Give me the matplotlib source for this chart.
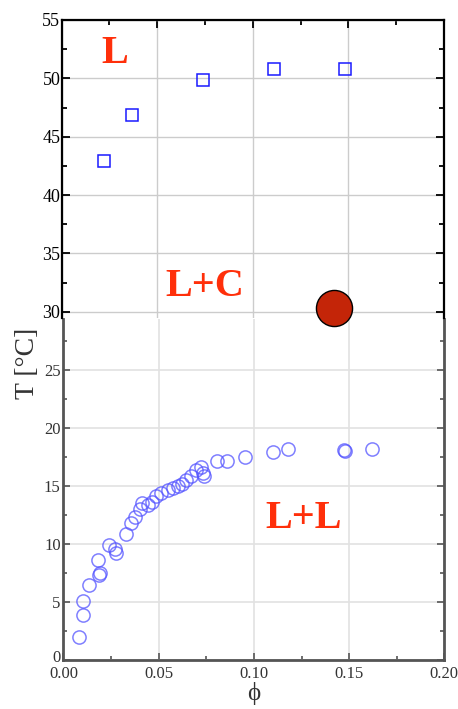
import numpy as np
import matplotlib.pyplot as plt
import matplotlib.transforms as mtransforms
from matplotlib.ticker import MultipleLocator

# upper panel: L / L+C boundary (open squares)
phi_sq = [0.022, 0.037, 0.074, 0.111, 0.148]
T_sq = [42.9, 46.9, 49.9, 50.8, 50.8]

# critical point (filled red circle)
phi_cp = [0.1427]
T_cp = [30.3]

# lower panel: L+L coexistence (open circles)
phi_circ = [0.0084, 0.0101, 0.0105, 0.0136, 0.0185, 0.0194, 0.018, 0.024, 0.0268,
            0.0277, 0.0329, 0.0352, 0.0373, 0.040, 0.0413, 0.0443, 0.0466, 0.0487,
            0.0513, 0.0548, 0.0574, 0.060, 0.0623, 0.0644, 0.067, 0.0697, 0.0723,
            0.0731, 0.074, 0.0805, 0.0857, 0.0955, 0.110, 0.1177, 0.1475, 0.1478,
            0.162]
T_circ = [2.0, 3.9, 5.1, 6.5, 7.3, 7.5, 8.6, 9.9, 9.6,
          9.25, 10.9, 11.8, 12.3, 13.0, 13.5, 13.4, 13.65, 14.1,
          14.4, 14.65, 14.8, 15.0, 15.2, 15.5, 15.9, 16.4, 16.6,
          16.1, 15.9, 17.15, 17.15, 17.5, 17.95, 18.15, 18.1, 18.05,
          18.15]

xticks = [0.00, 0.05, 0.10, 0.15, 0.20]
xticklabels = ["0.00", "0.05", "0.10", "0.15", "0.20"]

plt.rcParams['font.family'] = ['Liberation Serif', 'DejaVu Serif']
W, H = 458, 709
fig = plt.figure(figsize=(W / 100, H / 100), dpi=100)

def frac(l, t, r, b):
    return [l / W, 1 - b / H, (r - l) / W, (b - t) / H]

red = '#ff2f0a'

# ---- lower panel ----
ax2 = fig.add_axes(frac(63.5, 319.3, 444.3, 660))
ax2.set_xlim(0, 0.20)
ax2.set_ylim(0, 29.37)
ax2.plot(phi_circ, T_circ, 'o', ms=9.5, mfc='none', mec='#5555ff', mew=1.1, alpha=0.75)
ax2.xaxis.set_major_locator(MultipleLocator(0.05))
ax2.xaxis.set_minor_locator(MultipleLocator(0.025))
ax2.yaxis.set_major_locator(MultipleLocator(5))
ax2.yaxis.set_minor_locator(MultipleLocator(2.5))
ax2.set_xticks(xticks)
ax2.set_xticklabels(xticklabels)
ax2.tick_params(which='both', direction='in', right=True, top=False, colors='#555555',
                labelcolor='#333333', labelsize=12, pad=2)
ax2.tick_params(axis='x', pad=4)
ax2.tick_params(which='major', length=5, width=1.2)
ax2.tick_params(which='minor', length=3, width=1.2)
ax2.grid(True, color='#e2e2e2', lw=1.2)
for s in ['left', 'right', 'bottom']:
    ax2.spines[s].set_color('#555555')
    ax2.spines[s].set_linewidth(2)
ax2.spines['top'].set_visible(False)
ax2.set_yticks([0, 5, 10, 15, 20, 25])
ax2.set_yticklabels(['0', '5', '10', '15', '20', '25'])
# lift the "0" label a little so it does not sit on "0.00"
zero_lbl = ax2.get_yticklabels()[0]
zero_lbl.set_transform(zero_lbl.get_transform() +
                       mtransforms.ScaledTranslation(0, 4 / 100, fig.dpi_scale_trans))
ax2.text(0.126, 12.2, 'L+L', color=red, fontsize=29, fontweight='bold', ha='center', va='center')
ax2.set_xlabel('ϕ', fontsize=18, color='#333333', labelpad=0)

# ---- upper panel ----
ax1 = fig.add_axes(frac(61.7, 20, 444, 318))
ax1.set_xlim(0, 0.20)
ax1.set_ylim(29.46, 55)
ax1.patch.set_alpha(0)
ax1.plot(phi_sq, T_sq, 's', ms=9, mfc='none', mec='#1a1aff', mew=1.1)
ax1.xaxis.set_major_locator(MultipleLocator(0.05))
ax1.xaxis.set_minor_locator(MultipleLocator(0.025))
ax1.yaxis.set_major_locator(MultipleLocator(5))
ax1.yaxis.set_minor_locator(MultipleLocator(2.5))
ax1.set_yticks([30, 35, 40, 45, 50, 55])
ax1.tick_params(which='both', direction='in', top=True, bottom=False, right=True,
                labelbottom=False, labelsize=13, pad=1)
ax1.tick_params(which='major', length=6, width=1.3)
ax1.tick_params(which='minor', length=3.5, width=1.3)
ax1.grid(True, color='#cccccc', lw=1)
for s in ['left', 'right', 'top']:
    ax1.spines[s].set_linewidth(1.6)
ax1.spines['bottom'].set_visible(False)
ax1.text(0.028, 52.1, 'L', color=red, fontsize=29, fontweight='bold', ha='center', va='center')
ax1.text(0.075, 32.2, 'L+C', color=red, fontsize=29, fontweight='bold', ha='center', va='center')
ax1.plot(phi_cp, T_cp, 'o', ms=26, mfc='#c42508', mec='black', mew=1, clip_on=False, zorder=10)

fig.text(27 / W, 1 - 363 / H, 'T [°C]', rotation=90, fontsize=20, color='#333333',
         ha='center', va='center')

fig.savefig('out.png', dpi=100)
